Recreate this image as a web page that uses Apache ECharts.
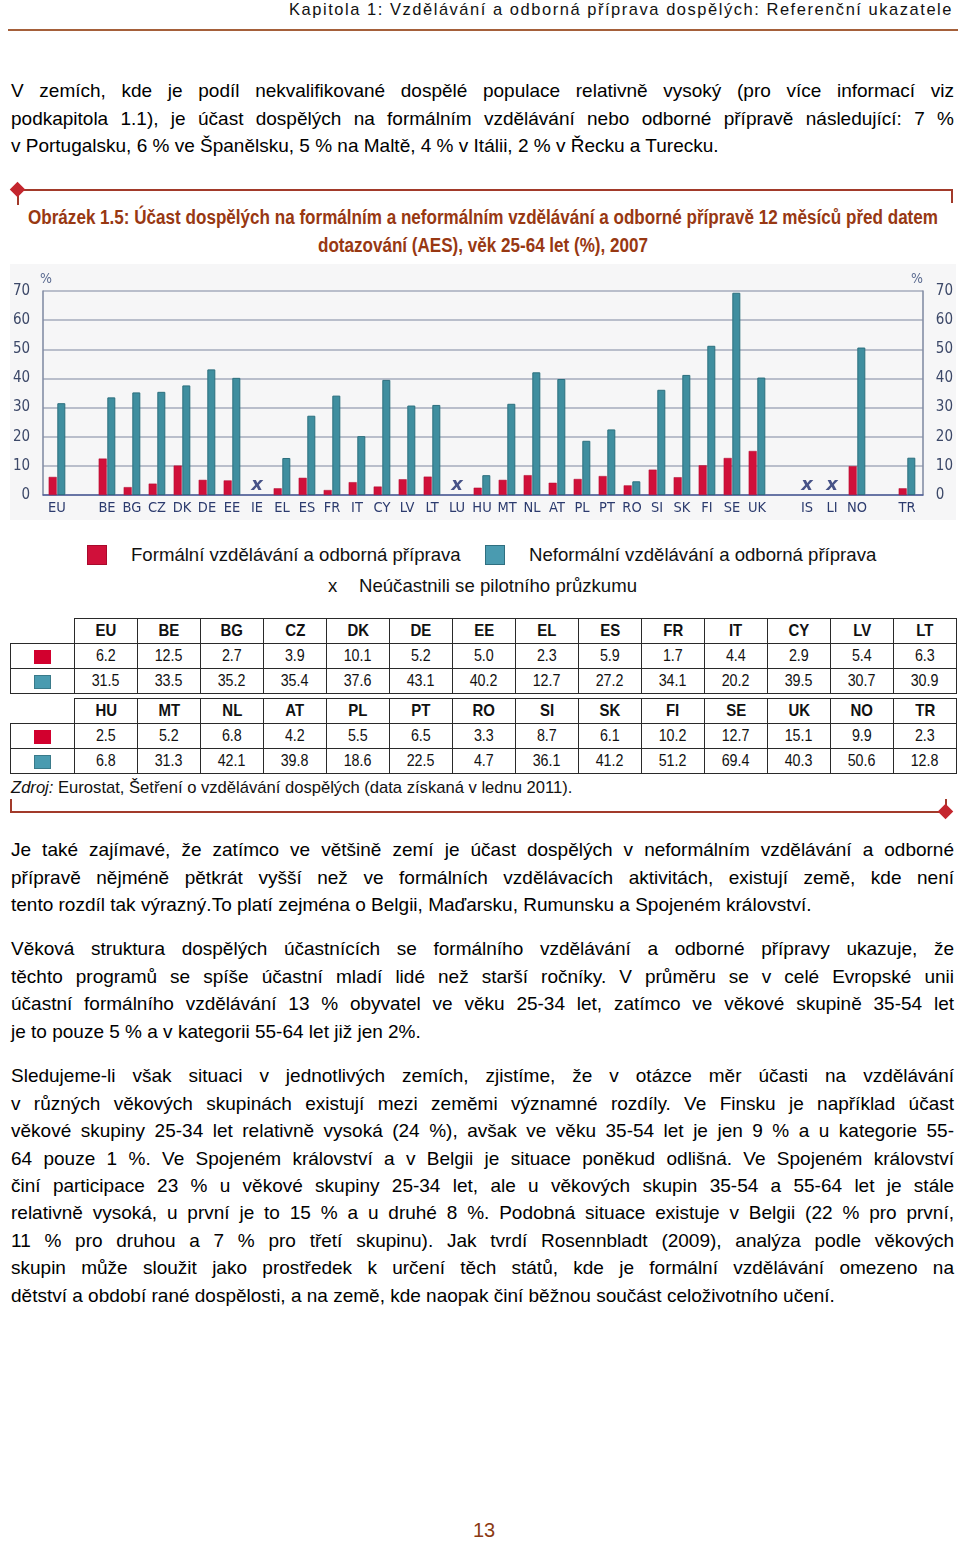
<!DOCTYPE html>
<html><head><meta charset="utf-8">
<script src="https://cdn.jsdelivr.net/npm/echarts@6/dist/echarts.min.js"></script>
<style>
body{margin:0;width:960px;height:1543px;position:relative;background:#fff;font-family:'Liberation Sans',Arial,sans-serif;color:#000;overflow:hidden}
.ln{position:absolute;left:11px;width:943px;font-size:19px;line-height:28px;height:28px;text-align:justify;text-align-last:justify}
.ln.last{text-align-last:left}
.fit{position:absolute;display:inline-block;white-space:nowrap;transform-origin:0 0}
.title{font-weight:bold;font-size:20px;line-height:24px;color:#983812}
table.t{position:absolute;left:10px;border-collapse:collapse;table-layout:fixed}
table.t td{border:1.5px solid #2a2a2a;padding:0;text-align:center;font-size:17px;line-height:22px;color:#111}
table.t tr{height:25px}
table.t td.blank{border:none}
table.t tr.h td{font-weight:bold}
table.t td span.v{display:inline-block;transform:scaleX(0.84)}
table.t tr.h td span.v{transform:scaleX(0.88)}
.sq{display:inline-block;width:17px;height:14px;vertical-align:middle;box-sizing:border-box}
.abs{position:absolute}
</style></head>
<body>
<div class="fit" data-w="664" style="left:289px;top:0;font-size:17px;line-height:20px;letter-spacing:1.6px;color:#111">Kapitola 1: Vzdělávání a odborná příprava dospělých: Referenční ukazatele</div>
<div class="abs" style="left:8px;top:29px;width:950px;height:2px;background:#a5603a"></div>

<div id="text"></div>

<!-- figure frame top -->
<div class="abs" style="left:18px;top:189px;width:934px;height:1.5px;background:#a23a2a"></div>
<div class="abs" style="left:17px;top:191px;width:1.5px;height:14px;background:#a23a2a"></div>
<div class="abs" style="left:12px;top:184px;width:11px;height:11px;background:#c4262e;transform:rotate(45deg)"></div>
<div class="abs" style="left:951px;top:189px;width:1.5px;height:14px;background:#a23a2a"></div>

<div class="fit title" data-w="910" style="left:28px;top:205px">Obrázek 1.5: Účast dospělých na formálním a neformálním vzdělávání a odborné přípravě 12 měsíců před datem</div>
<div class="fit title" data-w="330" style="left:318px;top:233px">dotazování (AES), věk 25-64 let (%), 2007</div>

<div id="chart" class="abs" style="left:10px;top:264px;width:946px;height:256px;background:#f6f6f7"></div>

<div id="legend"></div>
<div id="tables"></div>

<div class="abs" style="left:11px;top:778px;font-size:16.6px;line-height:20px;color:#111;white-space:nowrap"><i>Zdroj:</i> Eurostat, Šetření o vzdělávání dospělých (data získaná v lednu 2011).</div>

<!-- figure frame bottom -->
<div class="abs" style="left:10px;top:811px;width:936px;height:1.5px;background:#a23a2a"></div>
<div class="abs" style="left:10px;top:799px;width:1.5px;height:13px;background:#a23a2a"></div>
<div class="abs" style="left:945px;top:799px;width:1.5px;height:13px;background:#a23a2a"></div>
<div class="abs" style="left:940px;top:806px;width:11px;height:11px;background:#c4262e;transform:rotate(45deg)"></div>

<div class="abs" style="left:0;width:968px;text-align:center;top:1517px;font-size:20px;line-height:26px;color:#8b3a12">13</div>

<script>
// ---------- data ----------
const countries = ['EU','BE','BG','CZ','DK','DE','EE','IE','EL','ES','FR','IT','CY','LV','LT','LU','HU','MT','NL','AT','PL','PT','RO','SI','SK','FI','SE','UK','IS','LI','NO','TR'];
const formal    = [6.2,12.5,2.7,3.9,10.1,5.2,5.0,null,2.3,5.9,1.7,4.4,2.9,5.4,6.3,null,2.5,5.2,6.8,4.2,5.5,6.5,3.3,8.7,6.1,10.2,12.7,15.1,null,null,9.9,2.3];
const nonFormal = [31.5,33.5,35.2,35.4,37.6,43.1,40.2,null,12.7,27.2,34.1,20.2,39.5,30.7,30.9,null,6.8,31.3,42.1,39.8,18.6,22.5,4.7,36.1,41.2,51.2,69.4,40.3,null,null,50.6,12.8];
const gapAfter = ['EU','UK','NO'];
const notSurveyed = ['IE','LU','IS','LI'];
const yMin = 0, yMax = 70, yStep = 10;
const seriesNames = ['Formální vzdělávání a odborná příprava','Neformální vzdělávání a odborná příprava'];
const notSurveyedLabel = 'Neúčastnili se pilotního průzkumu';

const RED = '#d0103a', TEAL = '#3f8e9f';
const NARROW = "'DejaVu Sans Condensed','Liberation Sans Narrow',sans-serif";

// ---------- fit condensed headings ----------
document.querySelectorAll('.fit').forEach(el=>{
  const w = el.getBoundingClientRect().width;
  const target = +el.dataset.w;
  el.style.transform = 'scaleX(' + (target / w) + ')';
});

// ---------- paragraphs ----------
const paras = [
 {b:98, lines:[
  'V zemích, kde je podíl nekvalifikované dospělé populace relativně vysoký (pro více informací viz',
  'podkapitola 1.1), je účast dospělých na formálním vzdělávání nebo odborné přípravě následující: 7 %',
  'v\u00a0Portugalsku, 6 % ve Španělsku, 5 % na Maltě, 4 % v Itálii, 2 % v Řecku a Turecku.']},
 {b:856.7, lines:[
  'Je také zajímavé, že zatímco ve většině zemí je účast dospělých v neformálním vzdělávání a odborné',
  'přípravě nějméně pětkrát vyšší než ve formálních vzdělávacích aktivitách, existují země, kde není',
  'tento rozdíl tak výrazný.To platí zejména o Belgii, Maďarsku, Rumunsku a Spojeném království.']},
 {b:956, lines:[
  'Věková struktura dospělých účastnících se formálního vzdělávání a odborné přípravy ukazuje, že',
  'těchto programů se spíše účastní mladí lidé než starší ročníky. V průměru se v celé Evropské unii',
  'účastní formálního vzdělávání 13 % obyvatel ve věku 25-34 let, zatímco ve věkové skupině 35-54 let',
  'je to pouze 5 % a v kategorii 55-64 let již jen 2%.']},
 {b:1083, lines:[
  'Sledujeme-li však situaci v jednotlivých zemích, zjistíme, že v otázce měr účasti na vzdělávání',
  'v\u00a0různých věkových skupinách existují mezi zeměmi významné rozdíly. Ve Finsku je například účast',
  'věkové skupiny 25-34 let relativně vysoká (24 %), avšak ve věku 35-54 let je jen 9 % a u kategorie 55-',
  '64 pouze 1 %. Ve Spojeném království a v Belgii je situace poněkud odlišná. Ve Spojeném království',
  'činí participace 23 % u věkové skupiny 25-34 let, ale u věkových skupin 35-54 a 55-64 let je stále',
  'relativně vysoká, u první je to 15 % a u druhé 8 %. Podobná situace existuje v Belgii (22 % pro první,',
  '11 % pro druhou a 7 % pro třetí skupinu). Jak tvrdí Rosennbladt (2009), analýza podle věkových',
  'skupin může sloužit jako prostředek k určení těch států, kde je formální vzdělávání omezeno na',
  'dětství a období rané dospělosti, a na země, kde naopak činí běžnou součást celoživotního učení.']}
];
const txt = document.getElementById('text');
paras.forEach(p=>{
  p.lines.forEach((l,i)=>{
    const d=document.createElement('div');
    d.className='ln'+(i===p.lines.length-1?' last':'');
    d.style.top=(p.b+i*27.4-20.6)+'px';
    d.textContent=l;
    txt.appendChild(d);
  });
});

// ---------- legend ----------
const lg=document.getElementById('legend');
lg.innerHTML =
 '<div class="abs" style="left:87px;top:545px;width:20px;height:20px;background:'+RED+';box-sizing:border-box;border:1px solid #a80a2c"></div>'+
 '<div class="abs" style="left:131px;top:544px;font-size:18.6px;line-height:22px;color:#111;white-space:nowrap">'+seriesNames[0]+'</div>'+
 '<div class="abs" style="left:485px;top:545px;width:20px;height:20px;background:#4a9bb0;box-sizing:border-box;border:1px solid #2f6f80"></div>'+
 '<div class="abs" style="left:529px;top:544px;font-size:18.6px;line-height:22px;color:#111;white-space:nowrap">'+seriesNames[1]+'</div>'+
 '<div class="abs" style="left:328px;top:575px;font-size:18.6px;line-height:22px;color:#111">x</div>'+
 '<div class="abs" style="left:359px;top:575px;font-size:18.6px;line-height:22px;color:#111;white-space:nowrap">'+notSurveyedLabel+'</div>';

// ---------- tables ----------
const shown = countries.map((c,i)=>i).filter(i=>!notSurveyed.includes(countries[i]));
const blocks = [shown.slice(0,14), shown.slice(14)];
const tops = [618, 698];
const tw = document.getElementById('tables');
const fmt = v => v.toFixed(1);
const cell = s => '<td><span class="v">'+s+'</span></td>';
blocks.forEach((idx,b)=>{
  let h = '<table class="t" style="top:'+tops[b]+'px"><colgroup><col style="width:64px">'+idx.map(()=>'<col style="width:63px">').join('')+'</colgroup>';
  h += '<tr class="h"><td class="blank"></td>'+idx.map(i=>cell(countries[i])).join('')+'</tr>';
  h += '<tr><td><span class="sq" style="background:#d2002e"></span></td>'+idx.map(i=>cell(fmt(formal[i]))).join('')+'</tr>';
  h += '<tr><td><span class="sq" style="background:#4a9bb0;border:1px solid #3a7a8a"></span></td>'+idx.map(i=>cell(fmt(nonFormal[i]))).join('')+'</tr>';
  h += '</table>';
  tw.insertAdjacentHTML('beforeend', h);
});

// ---------- chart ----------
const cats=[], fData=[], nData=[];
countries.forEach((c,i)=>{
  cats.push(c); fData.push(formal[i]); nData.push(nonFormal[i]);
  if(gapAfter.includes(c)){ cats.push('_'+c); fData.push(null); nData.push(null); }
});
const xMarks = notSurveyed.map(c=>[cats.indexOf(c), 0]);

const chart = echarts.init(document.getElementById('chart'), null, {renderer:'canvas'});
const yLabel = {color:'#3c4868', fontFamily:NARROW, fontSize:15, margin:13};
chart.setOption({
  animation:false,
  grid:[
    {left:34.5, right:36.5, top:27, bottom:25},
    {left:31, right:32, top:27, bottom:25}
  ],
  xAxis:[
    {gridIndex:0, type:'category', data:cats, axisLine:{show:false}, axisTick:{show:false},
     axisLabel:{interval:0, margin:6, color:'#2c3b6e', fontFamily:NARROW, fontSize:14.5, formatter:v=>v.charAt(0)==='_'?'':v}},
    {gridIndex:1, type:'value', min:0, max:1, axisLine:{show:true, onZero:false, lineStyle:{color:'#4d5c98', width:1.5}},
     axisTick:{show:false}, axisLabel:{show:false}, splitLine:{show:false}}
  ],
  yAxis:[
    {gridIndex:0, type:'value', min:yMin, max:yMax, interval:yStep, show:false},
    {gridIndex:1, type:'value', min:yMin, max:yMax, interval:yStep, position:'left',
     axisLine:{show:true, lineStyle:{color:'#7d87a0', width:1.5}}, axisTick:{show:false}, axisLabel:yLabel,
     splitLine:{show:true, lineStyle:{color:'#a4abbd', width:1.5}}},
    {gridIndex:1, type:'value', min:yMin, max:yMax, interval:yStep, position:'right',
     axisLine:{show:true, lineStyle:{color:'#7d87a0', width:1.5}}, axisTick:{show:false}, axisLabel:yLabel,
     splitLine:{show:false}}
  ],
  graphic:[
    {type:'text', left:30, top:8, style:{text:'%', fill:'#5a6a90', font:'14px '+NARROW}},
    {type:'text', left:901, top:8, style:{text:'%', fill:'#5a6a90', font:'14px '+NARROW}}
  ],
  series:[
    {name:seriesNames[0], type:'bar', xAxisIndex:0, yAxisIndex:0, data:fData, barWidth:8, barGap:'8%',
     itemStyle:{color:RED, borderColor:'#b00a30', borderWidth:0.5}},
    {name:seriesNames[1], type:'bar', xAxisIndex:0, yAxisIndex:0, data:nData, barWidth:8, barGap:'8%',
     itemStyle:{color:TEAL, borderColor:'#2c6f7e', borderWidth:1}},
    {type:'scatter', xAxisIndex:0, yAxisIndex:0, data:xMarks, symbolSize:0, silent:true,
     label:{show:true, position:'top', distance:1, formatter:'x', color:'#1b2a6b', fontSize:18,
            fontStyle:'italic', fontWeight:'bold', fontFamily:"'DejaVu Sans',sans-serif"}}
  ]
});
</script>
</body></html>
